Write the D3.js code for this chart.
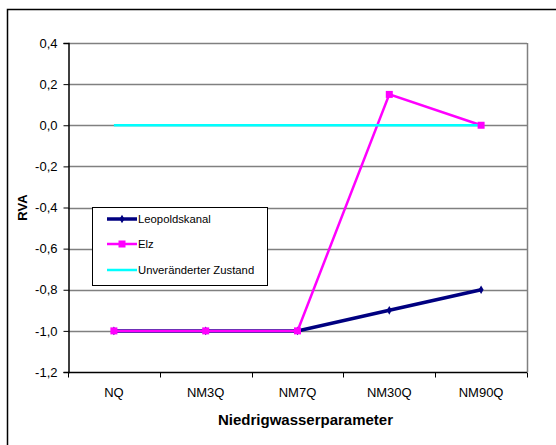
<!DOCTYPE html>
<html>
<head>
<meta charset="utf-8">
<script src="https://cdn.jsdelivr.net/npm/d3@7"></script>
<style>
  html, body { margin: 0; padding: 0; background: #fff; }
  svg { display: block; font-family: "Liberation Sans", Arial, sans-serif; }
</style>
</head>
<body>
<svg id="chart" width="556" height="445"></svg>
<script>
// Low-flow parameters and RVA values per river
const categories = ["NQ", "NM3Q", "NM7Q", "NM30Q", "NM90Q"];
const leopoldskanal = [-1.0, -1.0, -1.0, -0.9, -0.8];
const elz = [-1.0, -1.0, -1.0, 0.15, 0.0];
const unveraendert = [0, 0, 0, 0, 0];
const yTicks = [0.4, 0.2, 0.0, -0.2, -0.4, -0.6, -0.8, -1.0, -1.2];
const seriesNames = ["Leopoldskanal", "Elz", "Unveränderter Zustand"];

const svg = d3.select("#chart");
const plot = { left: 68, top: 43, right: 527, bottom: 372 };

// outer frame of the chart object
svg.append("rect")
  .attr("x", 7.5).attr("y", 9.5)
  .attr("width", 600).attr("height", 500)
  .attr("fill", "none").attr("stroke", "#000").attr("stroke-width", 1.5);

const x = d3.scaleBand().domain(categories).range([plot.left, plot.right]);
const y = d3.scaleLinear().domain([-1.2, 0.4]).range([plot.bottom, plot.top]);
const cx = d => x(d) + x.bandwidth() / 2;
const fmt = v => d3.format(".1f")(v).replace("−", "-").replace(".", ",");

// horizontal gridlines
svg.append("g").selectAll("line").data(yTicks.filter(v => v > -1.2)).join("line")
  .attr("x1", plot.left).attr("x2", plot.right)
  .attr("y1", d => Math.round(y(d)) + 0.5).attr("y2", d => Math.round(y(d)) + 0.5)
  .attr("stroke", "#808080").attr("stroke-width", 1.5);

// right border of the plot area
svg.append("line")
  .attr("x1", plot.right + 0.5).attr("x2", plot.right + 0.5)
  .attr("y1", plot.top).attr("y2", plot.bottom)
  .attr("stroke", "#808080").attr("stroke-width", 1.5);

// y axis
const yAxis = d3.axisLeft(y).tickValues(yTicks).tickSize(5).tickPadding(6).tickFormat(fmt);
const gy = svg.append("g").attr("transform", `translate(${plot.left + 0.5},0)`).call(yAxis);
gy.select(".domain").attr("stroke", "#000").attr("stroke-width", 1.5);
gy.selectAll(".tick line").attr("stroke", "#000");
gy.selectAll(".tick text").attr("font-size", 13).attr("fill", "#000")
  .attr("font-family", "Liberation Sans, Arial, sans-serif");

// x axis with ticks at the category boundaries
const gx = svg.append("g").attr("transform", `translate(0,${plot.bottom + 0.5})`);
gx.append("line").attr("x1", plot.left).attr("x2", plot.right)
  .attr("stroke", "#000").attr("stroke-width", 1.5);
const bounds = categories.map(c => x(c)).concat([plot.right]);
gx.selectAll("line.tk").data(bounds).join("line").attr("class", "tk")
  .attr("x1", d => Math.round(d) + 0.5).attr("x2", d => Math.round(d) + 0.5)
  .attr("y1", 0).attr("y2", 5).attr("stroke", "#000");
gx.selectAll("text").data(categories).join("text")
  .attr("x", d => cx(d)).attr("y", 24.5)
  .attr("text-anchor", "middle").attr("font-size", 13).text(d => d);

// axis titles
svg.append("text")
  .attr("x", (plot.left + plot.right) / 2 + 8).attr("y", 425)
  .attr("text-anchor", "middle").attr("font-size", 15).attr("font-weight", "bold")
  .text("Niedrigwasserparameter");
svg.append("text")
  .attr("transform", `translate(27,${(plot.top + plot.bottom) / 2}) rotate(-90)`)
  .attr("text-anchor", "middle").attr("font-size", 13).attr("font-weight", "bold")
  .text("RVA");

const line = d3.line().x((d, i) => cx(categories[i])).y(d => y(d));

// Leopoldskanal
svg.append("path").datum(leopoldskanal).attr("d", line)
  .attr("fill", "none").attr("stroke", "#000080").attr("stroke-width", 3.5);
svg.append("g").selectAll("path").data(leopoldskanal).join("path")
  .attr("d", d3.symbol(d3.symbolDiamond, 22))
  .attr("transform", (d, i) => `translate(${cx(categories[i])},${y(d)})`)
  .attr("fill", "#000080");

// Elz
svg.append("path").datum(elz).attr("d", line)
  .attr("fill", "none").attr("stroke", "#FF00FF").attr("stroke-width", 2.5);

// Unveränderter Zustand
svg.append("path").datum(unveraendert).attr("d", line)
  .attr("fill", "none").attr("stroke", "#00FFFF").attr("stroke-width", 2.5);

svg.append("g").selectAll("rect").data(elz).join("rect")
  .attr("x", (d, i) => cx(categories[i]) - 3.5).attr("y", d => y(d) - 3.5)
  .attr("width", 7).attr("height", 7).attr("fill", "#FF00FF");

// legend
const lg = svg.append("g");
lg.append("rect").attr("x", 92.5).attr("y", 207.5).attr("width", 175).attr("height", 78)
  .attr("fill", "#fff").attr("stroke", "#000").attr("stroke-width", 1);
const colors = ["#000080", "#FF00FF", "#00FFFF"];
const widths = [3.5, 2.5, 2.5];
const ly = [219, 244, 270];
seriesNames.forEach((name, i) => {
  lg.append("line").attr("x1", 107).attr("x2", 137).attr("y1", ly[i]).attr("y2", ly[i])
    .attr("stroke", colors[i]).attr("stroke-width", widths[i]);
  if (i === 0) {
    lg.append("path").attr("d", d3.symbol(d3.symbolDiamond, 22))
      .attr("transform", `translate(122,${ly[i]})`).attr("fill", colors[i]);
  }
  if (i === 1) {
    lg.append("rect").attr("x", 118.5).attr("y", ly[i] - 3.5).attr("width", 7).attr("height", 7)
      .attr("fill", colors[i]);
  }
  lg.append("text").attr("x", 138).attr("y", ly[i] + 4).attr("font-size", 11.3).text(name);
});
</script>
</body>
</html>
